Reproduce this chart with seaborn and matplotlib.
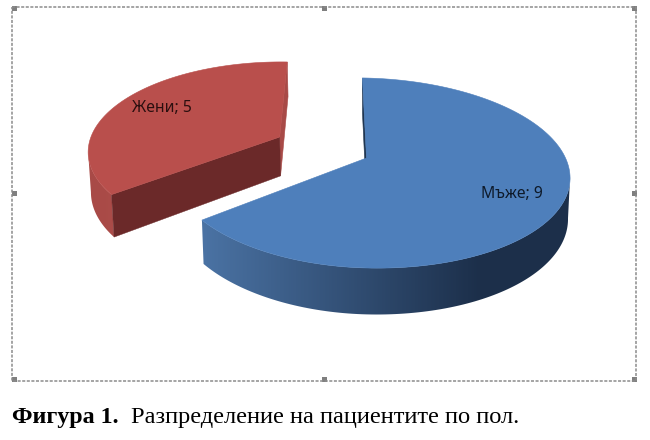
import numpy as np
import matplotlib
matplotlib.use("Agg")
import matplotlib.pyplot as plt
from matplotlib.colors import ListedColormap
from matplotlib.patches import Rectangle, Polygon
import seaborn as sns

# data
categories = ["Мъже", "Жени"]
values = [9, 5]
caption_bold = "Фигура 1."
caption_rest = "Разпределение на пациентите по пол."

# perspective of the pie, in pixels of the 650x440 picture
CX, CY = 366.5, 158
A, B = 201, 92.6
LEFT_SCALE = 0.96
P = 0.158
SHEAR = 0.025
DEPTH = 40
SHRINK = 0.99
START = -1.4
EXPLODE = [0, 0.51]


def project(u, v, low=False):
    u = np.asarray(u, dtype=float)
    w = 1 / (1 - P * v)
    dx = A * np.where(u < 0, LEFT_SCALE, 1) * u * w
    if low:
        return CX + dx * SHRINK, CY + (B * v * SHRINK + DEPTH) * w + SHEAR * dx
    return CX + dx, CY + B * v * w + SHEAR * dx


def rim(t1, t2, off, n=200):
    t = np.radians(np.linspace(t1, t2, n))
    return np.sin(t) + off[0], -np.cos(t) + off[1]


sns.set_theme(style="white")
plt.rcParams["font.family"] = ["Noto Sans", "DejaVu Sans"]

fig = plt.figure(figsize=(6.5, 4.4), dpi=100)
ax = fig.add_axes([0, 0, 1, 1])
ax.axis("off")

# frame of the embedded chart with its handles
ax.plot([12, 636, 636, 12, 12], [7, 7, 381, 381, 7], color="#8c8c8c", lw=1.1, ls=(0, (2, 1)))
for hx in [14, 324, 634]:
    for hy in [9, 194, 380]:
        if hx == 324 and hy == 194:
            continue
        ax.add_patch(Rectangle((hx - 2.5, hy - 2.5), 5, 5, color="#7f7f7f", lw=0))

angles = START + np.concatenate([[0], np.cumsum(values)]) / sum(values) * 360

top_colors = ["#4e7fbb", "#b94f4c"]
cut_colors = ["#1f3550", "#6b2929"]
sliver_colors = ["#1f3550", "#a84a47"]
wall_ramps = [sns.blend_palette(["#4a72a3", "#1c2f4a"], 256),
              sns.blend_palette(["#a84a47", "#b2504c"], 256)]
wall_spans = [(205, 480), (90, 180)]

for i in [1, 0]:
    t1, t2 = angles[i], angles[i + 1]
    mid = np.radians((t1 + t2) / 2)
    off = (EXPLODE[i] * np.sin(mid), -EXPLODE[i] * np.cos(mid))
    u, v = rim(t1, t2, off)
    tx, ty = project(u, v)
    bx, by = project(u, v, low=True)
    ax0, ay0 = project(off[0], off[1])
    lx0, ly0 = project(off[0], off[1], low=True)

    # outer wall, gradient along x clipped to the part that faces the viewer
    keep = slice(0, np.argmin(tx) + 1) if i == 1 else slice(np.argmax(tx), None)
    lo, hi = wall_spans[i]
    grad = np.clip((np.arange(0, 650) - lo) / (hi - lo), 0, 1).reshape(1, -1)
    img = ax.imshow(grad, extent=(0, 650, 440, 0), aspect="auto", zorder=2,
                    cmap=ListedColormap(wall_ramps[i]), vmin=0, vmax=1)
    wall = Polygon(np.c_[np.r_[tx[keep], bx[keep][::-1]], np.r_[ty[keep], by[keep][::-1]]],
                   transform=ax.transData)
    img.set_clip_path(wall)

    # thin face seen next to the start of the slice
    end = -1 if i == 1 else 0
    ax.fill([ax0, tx[end], bx[end], lx0], [ay0, ty[end], by[end], ly0],
            color=sliver_colors[i], lw=0.4, zorder=3)
    # cut face at the other side, only the red one looks to the viewer
    if i == 1:
        ax.fill([ax0, tx[0], bx[0], lx0], [ay0, ty[0], by[0], ly0],
                color=cut_colors[i], lw=0.3, zorder=3)

    ax.fill(np.r_[ax0, tx], np.r_[ay0, ty], color=top_colors[i], lw=0.4, zorder=4)

ax.set_xlim(0, 650)
ax.set_ylim(440, 0)

ax.text(512, 194, f"{categories[0]}; {values[0]}", fontsize=11.3, color="#0e1a2a",
        ha="center", va="center", zorder=5)
ax.text(162, 108, f"{categories[1]}; {values[1]}", fontsize=11.3, color="#2a0f0f",
        ha="center", va="center", zorder=5)

ax.text(12, 418, caption_bold, family="Liberation Serif", fontweight="bold", fontsize=17.3,
        color="black", ha="left", va="center")
ax.text(131, 418, caption_rest, family="Liberation Serif", fontsize=17.55,
        color="black", ha="left", va="center")

fig.savefig("out.png", dpi=100)
